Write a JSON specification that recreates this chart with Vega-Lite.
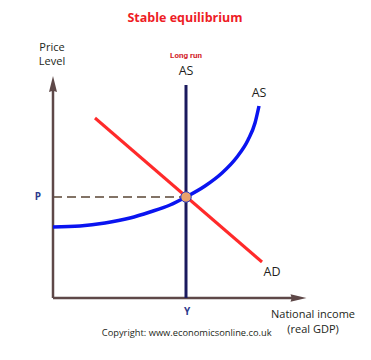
{
  "$schema": "https://vega.github.io/schema/vega-lite/v6.json",
  "width": 371,
  "height": 360,
  "padding": 0,
  "autosize": {"type": "fit", "contains": "padding"},
  "background": "white",
  "config": {"view": {"stroke": null}},
  "datasets": {
    "axes": [
      {"axis": "price", "x": 0, "x2": 0, "y": 0, "y2": 212},
      {"axis": "income", "x": 0, "x2": 240, "y": 0, "y2": 0}
    ],
    "arrows": [
      {"axis": "price", "x": 0, "y": 214, "dir": "up"},
      {"axis": "income", "x": 245.5, "y": 0, "dir": "right"}
    ],
    "lras": [{"x": 133, "y": 0, "y2": 213}],
    "ad": [{"x": 42, "y": 180}, {"x": 209, "y": 36}],
    "sras": [
      {"x": 0, "y": 71}, {"x": 27, "y": 72}, {"x": 52, "y": 75}, {"x": 77, "y": 80},
      {"x": 97, "y": 86}, {"x": 117, "y": 93}, {"x": 133, "y": 101}, {"x": 152, "y": 112},
      {"x": 169, "y": 125}, {"x": 184, "y": 141}, {"x": 195, "y": 158}, {"x": 202, "y": 175},
      {"x": 206, "y": 192}
    ],
    "dash": [{"x": 0, "x2": 133, "y": 101}],
    "eq": [{"x": 133, "y": 101}],
    "labels": [
      {"t": "Stable equilibrium", "x": 132, "y": 280, "kind": "title"},
      {"t": "Price", "x": -1, "y": 250, "kind": "axis"},
      {"t": "Level", "x": -1, "y": 236, "kind": "axis"},
      {"t": "National income", "x": 260, "y": -17, "kind": "axis"},
      {"t": "(real GDP)", "x": 260, "y": -32, "kind": "axis"},
      {"t": "AS", "x": 133, "y": 227, "kind": "curve"},
      {"t": "AS", "x": 206, "y": 205, "kind": "curve"},
      {"t": "AD", "x": 219, "y": 26, "kind": "curve"},
      {"t": "P", "x": -15, "y": 101, "kind": "eq"},
      {"t": "Y", "x": 134, "y": -14, "kind": "eq"},
      {"t": "Long run", "x": 133, "y": 242, "kind": "small"},
      {"t": "Copyright: www.economicsonline.co.uk", "x": 133.7, "y": -35, "kind": "copy"}
    ]
  },
  "encoding": {
    "x": {"type": "quantitative", "scale": {"domain": [-53, 318], "nice": false, "zero": false}, "axis": null},
    "y": {"type": "quantitative", "scale": {"domain": [-62, 298], "nice": false, "zero": false}, "axis": null}
  },
  "layer": [
    {
      "data": {"name": "dash"},
      "mark": {"type": "rule", "color": "#5a4634", "strokeWidth": 1.3, "strokeDash": [9, 5]},
      "encoding": {"x": {"field": "x"}, "x2": {"field": "x2"}, "y": {"field": "y"}}
    },
    {
      "data": {"name": "axes"},
      "mark": {"type": "rule", "color": "#5e4848", "strokeWidth": 2.5},
      "encoding": {"x": {"field": "x"}, "x2": {"field": "x2"}, "y": {"field": "y"}, "y2": {"field": "y2"}}
    },
    {
      "data": {"name": "arrows"},
      "transform": [{"filter": "datum.dir == 'up'"}],
      "mark": {"type": "point", "filled": true, "color": "#5e4848", "opacity": 1, "shape": "M0,-1L0.5,1L0,0.85L-0.5,1Z", "size": 256},
      "encoding": {"x": {"field": "x"}, "y": {"field": "y"}}
    },
    {
      "data": {"name": "arrows"},
      "transform": [{"filter": "datum.dir == 'right'"}],
      "mark": {"type": "point", "filled": true, "color": "#5e4848", "opacity": 1, "shape": "M1,0L-1,-0.47L-0.85,0L-1,0.47Z", "size": 256},
      "encoding": {"x": {"field": "x"}, "y": {"field": "y"}}
    },
    {
      "data": {"name": "ad"},
      "mark": {"type": "line", "color": "#ff2a2a", "strokeWidth": 3},
      "encoding": {"x": {"field": "x"}, "y": {"field": "y"}}
    },
    {
      "data": {"name": "sras"},
      "mark": {"type": "line", "color": "#0a14f0", "strokeWidth": 3.5, "interpolate": "monotone"},
      "encoding": {"x": {"field": "x"}, "y": {"field": "y"}}
    },
    {
      "data": {"name": "lras"},
      "mark": {"type": "rule", "color": "#1b1a5e", "strokeWidth": 3},
      "encoding": {"x": {"field": "x"}, "y": {"field": "y"}, "y2": {"field": "y2"}}
    },
    {
      "data": {"name": "eq"},
      "mark": {"type": "point", "filled": true, "fill": "#e9a26c", "stroke": "#2a3cc0", "strokeWidth": 1, "opacity": 1, "size": 110},
      "encoding": {"x": {"field": "x"}, "y": {"field": "y"}}
    },
    {
      "data": {"name": "labels"},
      "transform": [{"filter": "datum.kind == 'title'"}],
      "mark": {"type": "text", "font": "Open Sans", "fontWeight": "bold", "fontSize": 12.5, "color": "#ee1c25", "align": "center", "baseline": "middle"},
      "encoding": {"x": {"field": "x"}, "y": {"field": "y"}, "text": {"field": "t"}}
    },
    {
      "data": {"name": "labels"},
      "transform": [{"filter": "datum.kind == 'axis'"}],
      "mark": {"type": "text", "font": "Open Sans", "fontSize": 11, "color": "#231f20", "align": "center", "baseline": "middle"},
      "encoding": {"x": {"field": "x"}, "y": {"field": "y"}, "text": {"field": "t"}}
    },
    {
      "data": {"name": "labels"},
      "transform": [{"filter": "datum.kind == 'curve'"}],
      "mark": {"type": "text", "font": "Open Sans", "fontSize": 12.5, "color": "#231f20", "align": "center", "baseline": "middle"},
      "encoding": {"x": {"field": "x"}, "y": {"field": "y"}, "text": {"field": "t"}}
    },
    {
      "data": {"name": "labels"},
      "transform": [{"filter": "datum.kind == 'eq'"}],
      "mark": {"type": "text", "font": "Open Sans", "fontWeight": "bold", "fontSize": 10, "color": "#2e3a8c", "align": "center", "baseline": "middle"},
      "encoding": {"x": {"field": "x"}, "y": {"field": "y"}, "text": {"field": "t"}}
    },
    {
      "data": {"name": "labels"},
      "transform": [{"filter": "datum.kind == 'small'"}],
      "mark": {"type": "text", "font": "Roboto", "fontWeight": "bold", "fontSize": 8, "color": "#d2232a", "align": "center", "baseline": "middle"},
      "encoding": {"x": {"field": "x"}, "y": {"field": "y"}, "text": {"field": "t"}}
    },
    {
      "data": {"name": "labels"},
      "transform": [{"filter": "datum.kind == 'copy'"}],
      "mark": {"type": "text", "font": "Open Sans", "fontSize": 9.3, "color": "#231f20", "align": "center", "baseline": "middle"},
      "encoding": {"x": {"field": "x"}, "y": {"field": "y"}, "text": {"field": "t"}}
    }
  ]
}
